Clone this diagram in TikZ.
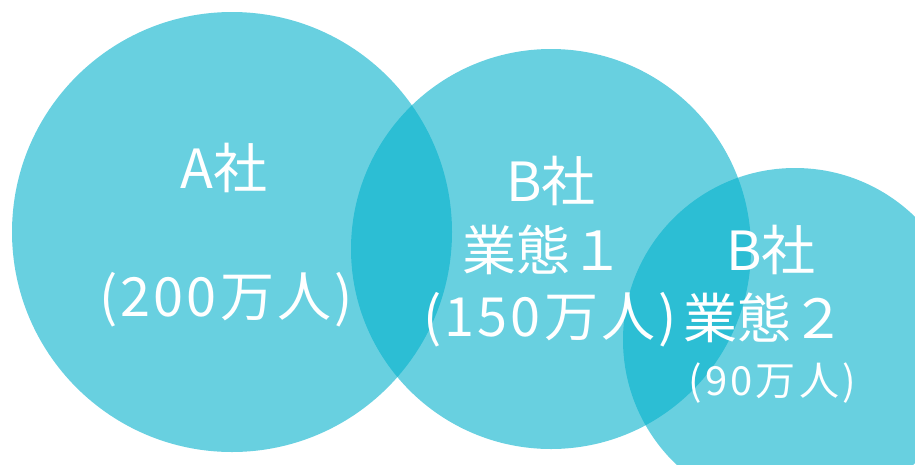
\documentclass[tikz,border=0pt]{standalone}
\usepackage{fontspec}
\setmainfont{Noto Sans CJK JP}
\definecolor{venn}{RGB}{4,177,204}
\begin{document}
\begin{tikzpicture}[x=1pt,y=-1pt,
  disc/.style={fill=venn,fill opacity=0.6},
  big/.style={text=white,font=\fontsize{54}{60}\selectfont,inner sep=0pt,anchor=center},
  bigwide/.style={text=white,font=\fontsize{54}{60}\selectfont\addfontfeature{LetterSpace=6},inner sep=0pt,anchor=center},
  small/.style={text=white,font=\fontsize{40}{44}\selectfont\addfontfeature{LetterSpace=8},inner sep=0pt,anchor=center}]
\useasboundingbox (0,0) rectangle (915,464);
\begin{scope}
\clip (0,0) rectangle (915,464);
\fill[disc] (232,232) circle (220);
\fill[disc] (551,249) circle (200);
\fill[disc] (795,340) circle (172);
\end{scope}
\node[big] (a1) at (224,168) {A社};
\node[bigwide] (a2) at (226,300) {(200万人)};
\node[big] (b1) at (551,181) {B社};
\node[big] (b2) at (543,250) {業態１};
\node[bigwide] (b3) at (550,320) {(150万人)};
\node[big] (c1) at (771,250) {B社};
\node[big] (c2) at (764,318) {業態２};
\node[small] (c3) at (772,383) {(90万人)};
\end{tikzpicture}
\end{document}
